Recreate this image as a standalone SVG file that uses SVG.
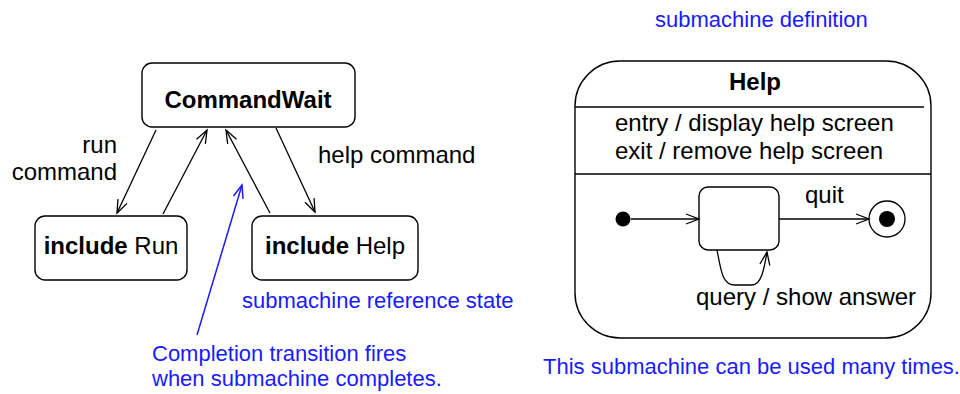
<svg xmlns="http://www.w3.org/2000/svg" width="960" height="394" viewBox="0 0 960 394">
<style>
  .st { fill: #fff; stroke: #000; stroke-width: 1.4; }
  .t { font-family: "Liberation Sans", Arial, sans-serif; font-size: 24px; fill: #000; }
  .b { font-weight: bold; }
  .note { font-family: "Liberation Sans", Arial, sans-serif; font-size: 22px; fill: #1a1aff; }
  .ln { fill: none; stroke: #000; stroke-width: 1.3; }
  .bl { fill: none; stroke: #1a1aff; stroke-width: 1.5; }
</style>
<defs>
  <marker id="arr" markerWidth="16" markerHeight="12" refX="14" refY="6" orient="auto" markerUnits="userSpaceOnUse">
    <path d="M1,1 L14,6 L1,11" fill="none" stroke="#000" stroke-width="1.3"/>
  </marker>
  <marker id="arrb" markerWidth="16" markerHeight="12" refX="14" refY="6" orient="auto" markerUnits="userSpaceOnUse">
    <path d="M1,1 L14,6 L1,11" fill="none" stroke="#1a1aff" stroke-width="1.5"/>
  </marker>
</defs>

<g id="CommandWait">
  <rect class="st" x="142" y="63" width="213" height="64" rx="10"/>
  <text class="t b" x="248" y="108" text-anchor="middle" font-size="25">CommandWait</text>
</g>
<g id="includeRun">
  <rect class="st" x="35" y="216" width="152" height="64" rx="10"/>
  <text class="t" x="111" y="254" text-anchor="middle"><tspan class="b">include</tspan> Run</text>
</g>
<g id="includeHelp">
  <rect class="st" x="252" y="216" width="166" height="64" rx="10"/>
  <text class="t" x="335" y="254" text-anchor="middle"><tspan class="b">include</tspan> Help</text>
</g>

<g id="HelpDefinition">
  <rect class="st" x="575" y="61" width="356" height="277" rx="45" stroke-width="1.5"/>
  <line class="ln" x1="575" y1="107" x2="924" y2="107" stroke-width="1.5"/>
  <line class="ln" x1="575" y1="174" x2="931" y2="174" stroke-width="1.5"/>
  <text class="t b" x="755" y="90" text-anchor="middle" font-size="25">Help</text>
  <text class="t" x="615" y="131">entry / display help screen</text>
  <text class="t" x="615" y="159">exit / remove help screen</text>
</g>
<g id="initial">
  <circle cx="623" cy="219" r="7.5" fill="#000"/>
</g>
<g id="inner">
  <rect class="st" x="699" y="187" width="80" height="63" rx="9"/>
</g>
<g id="final">
  <circle cx="887" cy="219" r="18" fill="#fff" stroke="#000" stroke-width="1.3"/>
  <circle cx="887" cy="219" r="8" fill="#000"/>
</g>

<g id="connectors">
  <line class="ln" x1="156" y1="130" x2="117" y2="213" marker-end="url(#arr)"/>
  <line class="ln" x1="163" y1="214" x2="207" y2="130" marker-end="url(#arr)"/>
  <line class="ln" x1="270" y1="213" x2="226" y2="130" marker-end="url(#arr)"/>
  <line class="ln" x1="276" y1="128" x2="315" y2="212" marker-end="url(#arr)"/>
  <line class="bl" x1="197" y1="335" x2="242" y2="185" marker-end="url(#arrb)"/>
  <line class="ln" x1="631" y1="219" x2="699" y2="219" marker-end="url(#arr)"/>
  <line class="ln" x1="779" y1="219" x2="869" y2="219" marker-end="url(#arr)"/>
  <path class="ln" d="M717,250 C721,270 722,285 735,285 L752,285 C761,285 764,270 767,252" marker-end="url(#arr)"/>
</g>

<g id="labels">
  <text class="t" x="117" y="153" text-anchor="end">run</text>
  <text class="t" x="117" y="180" text-anchor="end">command</text>
  <text class="t" x="318" y="163">help command</text>
  <text class="t" x="805" y="203">quit</text>
  <text class="t" x="696" y="305">query / show answer</text>
</g>

<g id="notes">
  <text class="note" x="655" y="27">submachine definition</text>
  <text class="note" x="242" y="308">submachine reference state</text>
  <text class="note" x="152" y="361">Completion transition fires</text>
  <text class="note" x="152" y="386">when submachine completes.</text>
  <text class="note" x="543" y="374" font-size="21.6">This submachine can be used many times.</text>
</g>
</svg>
